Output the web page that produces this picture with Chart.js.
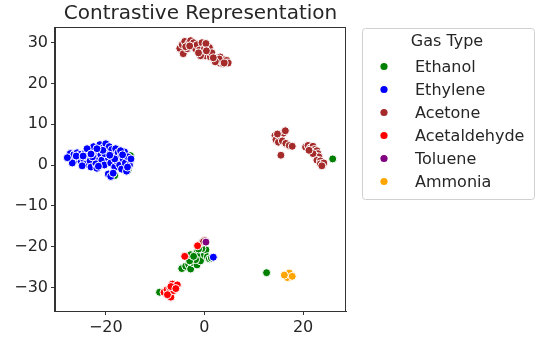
<!DOCTYPE html>
<html>
<head>
<meta charset="utf-8">
<script src="https://cdn.jsdelivr.net/npm/chart.js@4/dist/chart.umd.min.js"></script>
<style>
  html, body { margin: 0; padding: 0; background: #fff; }
  #wrap { width: 536px; height: 341px; }
</style>
</head>
<body>
<div id="wrap"><canvas id="myChart" width="536" height="341"></canvas></div>
<script>
// DATOS
const gasTypes = ['Ethanol', 'Ethylene', 'Acetone', 'Acetaldehyde', 'Toluene', 'Ammonia']
const gasColors = ['#008000', '#0000ff', '#a52a2a', '#ff0000', '#800080', '#ffa500']

const ethanolPts = [
  [-15, 2.3], [-18.2, -2.6], [-15.5, -1.3],
  [-4.6, -25.4], [-3.8, -24.8], [-3.2, -24.4], [-2.8, -25.5], [-2.2, -24], [-1.5, -24.5],
  [-2.5, -22.8], [-2, -21.8], [-1.5, -21.2], [-1, -22.3], [-0.8, -23.5], [-0.3, -21],
  [0, -22], [0.3, -20.8], [0.6, -22.5], [1, -23], [1.4, -22.8], [-1.8, -23.2],
  [-3, -23.5], [-0.5, -20.5], [-2.8, -22], [-1.2, -20.6], [-2.2, -22.4],
  [12.6, -26.4], [26, 1.5], [-9.1, -31.2]
]
const ethylenePts = [
  [-27.5, 2.2], [-27, 1.5], [-27.2, 2.8], [-26.5, 2.5], [-26.2, 1.2], [-25.8, 3], [-25.5, 2],
  [-25, 0.8], [-25.2, 2.6], [-24.5, 1.5], [-24.2, 2.9], [-24, 0.2], [-23.5, 2.2], [-23.2, 1],
  [-23, -0.5], [-22.8, 3.2], [-22.5, 4.5], [-22.2, 1.8], [-22, 0.3], [-21.8, -0.8], [-21.5, 3.5],
  [-21.2, 5], [-21, 2.5], [-20.8, 1.2], [-20.5, 4.2], [-20.3, 0], [-20, 5.2], [-19.8, 3],
  [-19.5, 1.8], [-19.3, 4.5], [-19, 0.5], [-18.8, 3.8], [-18.5, 2.2], [-18.2, -0.5], [-18, 4],
  [-17.8, 1], [-17.5, 3], [-17.2, 0], [-17, 2], [-16.8, -1], [-16.5, 1.5], [-16.2, 3.2],
  [-16, 0.5], [-15.8, -1.5], [-15.5, 2], [-15.2, 0], [-14.9, 1.5], [-19.5, -2.2], [-19, -2.8],
  [-18.5, -2], [-24.8, -0.2], [-26.8, 0.5], [-23.8, 4], [-21.5, -0.3], [-22.7, 2], [-20.2, 2.8],
  [-18.2, 1.5], [-17, 3.5], [-15.6, -0.5], [-27.8, 1.8], [-26, 2.2], [-23, 2.7], [-20.6, 3.6],
  [-19.2, 2.4], [-21.8, 4], [-24.6, 2.2], [-16.6, 2.5],
  [1.8, -22.6]
]
const acetonePts = [
  [-5, 28.6], [-4.3, 27.3], [-4.5, 29.5], [-4, 30.3], [-3.5, 28.5], [-3.2, 29.8], [-2.8, 30.5],
  [-2.5, 29], [-2.2, 30], [-1.8, 28.5], [-1.5, 29.5], [-3.8, 29], [-3, 29.2],
  [-1, 28.2], [-0.5, 30], [-0.3, 27.2], [0, 28.5], [0.2, 26.8], [0.5, 29.2], [0.8, 27.8],
  [1, 28.8], [1.2, 26.5], [-0.8, 26.8], [0.3, 29.8], [1.5, 27.5], [-1.2, 27.5], [0.4, 28],
  [2, 25.5], [2.5, 26.2], [3, 25], [3.2, 26.5], [3.5, 25.5], [3.8, 24.8], [4, 25.8],
  [4.2, 25.2], [4.5, 25.6], [3, 26], [2.2, 25.3], [1.8, 26.3], [4.8, 25], [4, 25],
  [14.3, 7.2], [14.5, 6.2], [15, 5.6], [15.5, 7], [16, 7.8], [16.4, 8.4], [15.8, 5.9],
  [16.5, 5.3], [17.2, 4.8], [17.8, 4.6], [15.5, 2.4], [14.8, 7.6],
  [20.5, 4.4], [21, 4.8], [21.5, 4.2], [22, 4.6], [22.3, 3.8], [21.8, 3.2], [22.8, 3.5],
  [23, 2.8], [22.5, 2.2], [23.2, 2], [22.8, 1.2], [23.5, 1], [23.5, 0.3], [24, 0],
  [24.2, 0.5], [23.8, -0.2], [22, 2.8], [21.2, 3.6],
  [-0.5, -19], [0, -18.5], [-0.2, -18.8]
]
const acetaldehydePts = [
  [-8.2, -31.2], [-7.6, -30.6], [-7.2, -31.8], [-7, -30.2], [-6.8, -32.4], [-6.5, -29.2],
  [-6.3, -30.8], [-6, -29.8], [-5.5, -29.4], [-7.5, -31.8], [-6.8, -29.8], [-5.8, -30.3],
  [-1.4, -19.8], [-4, -22.4]
]
const toluenePts = [
  [0.3, -18.9]
]
const ammoniaPts = [
  [16.5, -27.2], [17, -26.8], [17.3, -27.5], [17.6, -26.9], [16.8, -27.6], [17.2, -26.5],
  [16.2, -27], [17.8, -27.3]
]

const xTicks = [-20, 0, 20]
const yTicks = [-30, -20, -10, 0, 10, 20, 30]

const allPts = [ethanolPts, ethylenePts, acetonePts, acetaldehydePts, toluenePts, ammoniaPts]

const txtColor = '#262626'
const spineColor = '#333333'
const fontFam = '"DejaVu Sans", sans-serif'

const fmtTick = v => v < 0 ? '\u2212' + Math.abs(v) : '' + v

// TITULO, MARCO Y LEYENDA
const extras = {
  id: 'extras',
  afterDraw: (chart) => {
    const ctx = chart.ctx
    const a = chart.chartArea
    ctx.save()
    // marco
    ctx.strokeStyle = spineColor
    ctx.lineWidth = 1
    ctx.strokeRect(Math.round(a.left) - 0.5, Math.round(a.top) - 0.5, Math.round(a.right - a.left), Math.round(a.bottom - a.top) + 1)
    // titulo
    ctx.fillStyle = txtColor
    ctx.font = '20px ' + fontFam
    ctx.textAlign = 'center'
    ctx.textBaseline = 'middle'
    ctx.fillText('Contrastive Representation', (a.left + a.right) / 2, 14)
    // leyenda
    const bx = 362.5, by = 28.5, bw = 172, bh = 171
    ctx.beginPath()
    ctx.roundRect(bx, by, bw, bh, 3)
    ctx.fillStyle = '#fff'
    ctx.fill()
    ctx.strokeStyle = '#d0d0d0'
    ctx.stroke()
    ctx.fillStyle = txtColor
    ctx.font = '16px ' + fontFam
    ctx.textAlign = 'center'
    ctx.fillText('Gas Type', 447, 42)
    ctx.textAlign = 'left'
    chart.data.datasets.forEach((ds, i) => {
      const yy = 66.5 + i * 23
      ctx.beginPath()
      ctx.arc(384, yy, 3.6, 0, Math.PI * 2)
      ctx.fillStyle = ds.backgroundColor
      ctx.fill()
      ctx.fillStyle = txtColor
      ctx.fillText(ds.label, 415, yy + 1)
    })
    ctx.restore()
  }
}

const chart = document.getElementById('myChart')

new Chart(chart, {
  type: 'scatter',
  data: {
    datasets: gasTypes.map((g, i) => ({
      label: g,
      data: allPts[i].map(p => ({ x: p[0], y: p[1] })),
      backgroundColor: gasColors[i],
      borderColor: '#ffffff',
      borderWidth: 1,
      pointRadius: 4,
      order: 5 - i
    }))
  },
  options: {
    responsive: false,
    animation: false,
    events: [],
    layout: { padding: { top: 28, right: 190, left: 0, bottom: 0 } },
    scales: {
      x: {
        type: 'linear',
        min: -30.3,
        max: 28.7,
        afterFit: s => { s.height = 30 },
        afterBuildTicks: s => { s.ticks = xTicks.map(v => ({ value: v })) },
        grid: { drawOnChartArea: false, drawTicks: true, tickLength: 4, color: spineColor },
        border: { display: true, color: spineColor, width: 1 },
        ticks: { color: txtColor, font: { size: 16, family: fontFam }, padding: 3, maxRotation: 0, callback: fmtTick }
      },
      y: {
        type: 'linear',
        min: -35.8,
        max: 33.6,
        afterFit: s => { s.width = 55 },
        afterBuildTicks: s => { s.ticks = yTicks.map(v => ({ value: v })) },
        grid: { drawOnChartArea: false, drawTicks: true, tickLength: 4, color: spineColor },
        border: { display: true, color: spineColor, width: 1 },
        ticks: { color: txtColor, font: { size: 16, family: fontFam }, padding: 3, callback: fmtTick }
      }
    },
    plugins: {
      legend: { display: false },
      title: { display: false },
      tooltip: { enabled: false }
    }
  },
  plugins: [extras]
})
</script>
</body>
</html>
